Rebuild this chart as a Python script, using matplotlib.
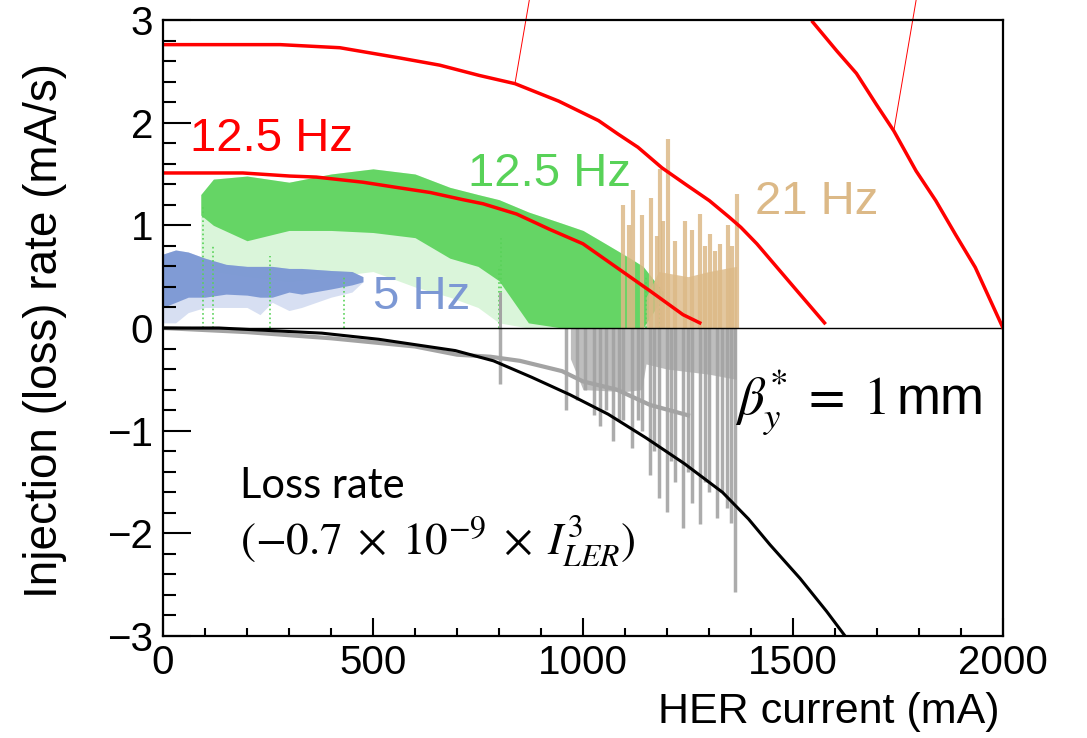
import numpy as np
import matplotlib
matplotlib.use('Agg')
import matplotlib.pyplot as plt
from matplotlib.ticker import MultipleLocator

plt.rcParams['font.family'] = ['Liberation Sans', 'DejaVu Sans']
plt.rcParams['mathtext.fontset'] = 'stix'

## Data (mA, mA/s)
# injection-rate curves (red)
redA_x = [0, 279, 421, 564, 659, 753, 838, 942, 1037, 1083, 1131, 1188, 1244, 1301, 1348, 1376, 1414, 1462, 1510, 1575]
redA_y = [2.76, 2.76, 2.73, 2.63, 2.56, 2.46, 2.38, 2.21, 2.02, 1.89, 1.76, 1.56, 1.40, 1.24, 1.08, 0.98, 0.82, 0.59, 0.36, 0.05]
redB_x = [0, 190, 302, 365, 476, 555, 636, 714, 762, 842, 921, 1000, 1080, 1160, 1238, 1278]
redB_y = [1.51, 1.51, 1.48, 1.47, 1.42, 1.37, 1.32, 1.25, 1.21, 1.11, 0.96, 0.82, 0.59, 0.36, 0.13, 0.05]
redC_x = [1547, 1604, 1651, 1698, 1740, 1793, 1840, 1887, 1934, 2000]
redC_y = [2.98, 2.70, 2.48, 2.18, 1.92, 1.53, 1.24, 0.91, 0.59, 0.0]
# pointer lines going out of the frame
ptr1_x = [838, 872]
ptr1_y = [2.38, 3.19]
ptr2_x = [1740, 1793]
ptr2_y = [1.92, 3.19]

# loss rate curve (black)
loss_x = [0, 133, 378, 514, 696, 787, 878, 969, 1060, 1150, 1241, 1332, 1394, 1445, 1517, 1580, 1624]
loss_y = [0, 0, -0.05, -0.11, -0.22, -0.32, -0.48, -0.65, -0.84, -1.07, -1.32, -1.6, -1.86, -2.11, -2.44, -2.76, -3.0]

# 12.5 Hz measured injection (green cloud envelopes)
green_x = [90, 120, 200, 300, 400, 500, 600, 683, 750, 800, 870, 950, 1000, 1050, 1112, 1143, 1191]
green_top = [1.3, 1.45, 1.48, 1.42, 1.5, 1.55, 1.5, 1.37, 1.3, 1.25, 1.13, 1.02, 0.95, 0.83, 0.68, 0.6, 0.35]
green_core = [1.1, 1.0, 0.85, 0.95, 0.95, 0.93, 0.88, 0.68, 0.6, 0.46, 0.05, 0, 0, 0, 0, 0, 0.3]
green_sparse = [0.6, 0.55, 0.5, 0.45, 0.5, 0.55, 0.4, 0.3, 0.2, 0.05, 0, 0, 0, 0, 0, 0, 0]
green_streak_x = [95, 120, 255, 430, 800, 805, 1150, 1180]
green_streak_top = [1.2, 0.8, 0.7, 0.5, 0.6, 0.9, 0.5, 0.4]

# 5 Hz measured injection (blue cloud)
blue_x = [0, 30, 60, 100, 150, 200, 231, 260, 300, 330, 400, 450, 476]
blue_top = [0.72, 0.76, 0.74, 0.68, 0.62, 0.6, 0.6, 0.6, 0.58, 0.58, 0.56, 0.55, 0.5]
blue_core = [0.2, 0.25, 0.3, 0.3, 0.33, 0.32, 0.3, 0.3, 0.35, 0.33, 0.38, 0.42, 0.45]
blue_sparse = [0.05, 0.05, 0.15, 0.2, 0.2, 0.2, 0.13, 0.25, 0.17, 0.2, 0.3, 0.35, 0.45]

# 21 Hz measured injection (tan)
tan_x = [1150, 1180, 1250, 1300, 1365]
tan_top = [0.3, 0.55, 0.5, 0.55, 0.6]
tan_spike_x = [1095, 1110, 1120, 1140, 1163, 1175, 1183, 1191, 1203, 1220, 1243, 1260, 1278, 1290, 1302, 1315, 1326, 1345, 1355, 1366]
tan_spike_top = [1.2, 1.0, 1.34, 1.1, 1.27, 0.9, 1.55, 1.04, 1.84, 0.85, 1.04, 0.95, 1.11, 0.8, 0.92, 0.75, 0.82, 1.0, 0.8, 1.31]

# measured loss (gray)
gray_x = [0, 100, 200, 300, 400, 500, 600, 700, 780, 850, 950, 1000, 1080, 1160, 1250]
gray_y = [0.0, -0.02, -0.04, -0.07, -0.1, -0.14, -0.18, -0.26, -0.28, -0.32, -0.42, -0.52, -0.6, -0.75, -0.85]
gray_dense_x = [970, 1000, 1100, 1140, 1150, 1200, 1300, 1365]
gray_dense_lo = [-0.3, -0.6, -0.62, -0.6, -0.35, -0.4, -0.45, -0.5]
gray_spike_x = [802, 960, 985, 1005, 1025, 1040, 1055, 1071, 1085, 1095, 1116, 1130, 1140, 1160, 1170,
                1180, 1199, 1210, 1220, 1238, 1250, 1260, 1278, 1290, 1300, 1318, 1330, 1342, 1352, 1362]
gray_spike_lo = [-0.55, -0.8, -0.7, -0.6, -0.85, -0.95, -0.8, -1.1, -0.9, -0.9, -1.17, -0.9, -1.0, -1.43, -1.2,
                 -1.66, -1.79, -1.3, -1.5, -1.95, -1.4, -1.7, -1.91, -1.5, -1.6, -1.85, -1.6, -1.75, -1.9, -2.57]

c_red = '#ff0000'
c_green = '#58d258'
c_blue = '#7c98d4'
c_tan = '#dcb987'
c_gray = '#a3a3a3'

fig = plt.figure(figsize=(10.87, 7.38), dpi=100)
ax = fig.add_axes([163/1087, 1 - 636/738, 840/1087, 616/738])

# clouds
ax.fill_between(green_x, green_sparse, green_top, color=c_green, alpha=0.22, lw=0)
ax.fill_between(green_x, green_core, green_top, color=c_green, alpha=0.9, lw=0)
ax.vlines(green_streak_x, 0, green_streak_top, color=c_green, lw=1.2, linestyles=':')
ax.fill_between(blue_x, blue_sparse, blue_top, color=c_blue, alpha=0.3, lw=0)
ax.fill_between(blue_x, blue_core, blue_top, color=c_blue, alpha=0.95, lw=0)
ax.fill_between(tan_x, 0, tan_top, color=c_tan, alpha=0.8, lw=0)
ax.vlines(tan_spike_x, 0, tan_spike_top, color=c_tan, lw=3, alpha=0.85)

ax.fill_between(gray_dense_x, gray_dense_lo, 0, color=c_gray, alpha=0.7, lw=0)
ax.vlines(gray_spike_x, gray_spike_lo, 0, color=c_gray, lw=2.5, alpha=0.9)
ax.vlines([802], [0], [0.35], color=c_gray, lw=2.2)
ax.plot(gray_x, gray_y, color=c_gray, lw=3)

# curves
ax.axhline(0, color='black', lw=1)
ax.plot(loss_x, loss_y, color='black', lw=2.2)
ax.plot(redA_x, redA_y, color=c_red, lw=2.5)
ax.plot(redB_x, redB_y, color=c_red, lw=2.5)
ax.plot(redC_x, redC_y, color=c_red, lw=2.5)
ax.plot(ptr1_x, ptr1_y, color=c_red, lw=0.7, clip_on=False)
ax.plot(ptr2_x, ptr2_y, color=c_red, lw=0.7, clip_on=False)

ax.set_xlim(0, 2000)
ax.set_ylim(-3, 3)
ax.xaxis.set_major_locator(MultipleLocator(500))
ax.xaxis.set_minor_locator(MultipleLocator(100))
ax.yaxis.set_major_locator(MultipleLocator(1))
ax.yaxis.set_minor_locator(MultipleLocator(0.2))
ax.tick_params(axis='both', which='both', direction='in', width=1.5, labelsize=29)
ax.tick_params(axis='y', which='major', length=20, pad=7)
ax.tick_params(axis='y', which='minor', length=9.5)
ax.tick_params(axis='x', which='major', length=13, pad=6)
ax.tick_params(axis='x', which='minor', length=6)
for s in ax.spines.values():
    s.set_linewidth(1.6)
ax.set_yticks([3, 2, 1, 0, -1, -2, -3])
ax.set_yticklabels(['3', '2', '1', '0', '\u22121', '\u22122', '\u22123'])

# labels
fig.text(1000/1087, 1 - 712/738, 'HER current (mA)', ha='right', va='center', fontsize=31)
fig.text(45/1087, 1 - 330/738, 'Injection (loss) rate (mA/s)', ha='center', va='center',
         rotation=90, fontsize=33)

ax.text(64, 1.84, '12.5 Hz', color=c_red, fontsize=34, va='center')
ax.text(726, 1.5, '12.5 Hz', color=c_green, fontsize=34, va='center')
ax.text(1410, 1.23, '21 Hz', color=c_tan, fontsize=34, va='center')
ax.text(500, 0.3, '5 Hz', color=c_blue, fontsize=34, va='center')
ax.text(1362, -0.72, r'$\beta_y^{*}\;=\;1\,$mm', fontsize=38, va='center')
ax.text(183, -1.54, 'Loss rate', fontsize=30, va='center', family=['Lato', 'DejaVu Sans'])
ax.text(183, -2.08, r'$(-0.7\;\times\;10^{-9}\;\times\;I_{LER}^{3})$', fontsize=32.5, va='center')

fig.savefig('out.png', dpi=100)
